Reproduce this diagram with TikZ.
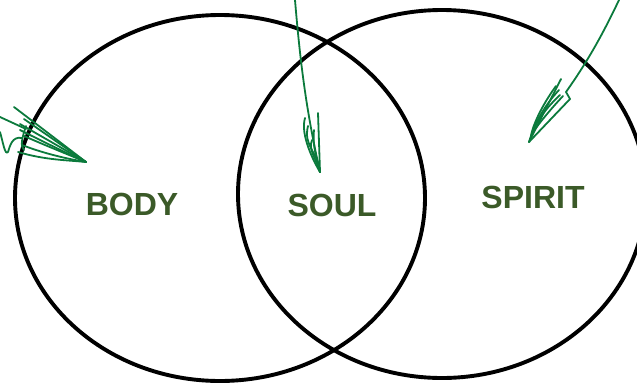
\documentclass[tikz,border=0pt]{standalone}
\usepackage{fontspec}
\setmainfont{Liberation Sans}
\usetikzlibrary{positioning}
\definecolor{labelgreen}{HTML}{3B5A28}
\definecolor{penGreen}{HTML}{0B7A3C}

\begin{document}
\begin{tikzpicture}[
    x=1pt, y=-1pt,
    ring/.style={draw=black, line width=3.9pt},
    word/.style={text=labelgreen, font=\fontsize{32}{34}\selectfont\bfseries, inner sep=0pt},
    scribble/.style={draw=penGreen, line width=1.8pt, line cap=round, line join=round}
]
\useasboundingbox (0,0) rectangle (637,383);

% the two circles
\draw[ring] (220,198) ellipse [x radius=205, y radius=183];
\draw[ring] (442,194) ellipse [x radius=204, y radius=184];

% labels
\node[word] (body) at (132,204) {BODY};
\node[word] (soul) at (332,205) {SOUL};
\node[word] (spirit) at (533,197) {SPIRIT};

% hand drawn pointers
\coordinate (tipA) at (86,162);
\coordinate (tipB) at (320,172);
\coordinate (tipC) at (529,142);

\draw[scribble] (0,117) -- (26,129);
\draw[scribble] (14,107) -- (tipA);
\draw[scribble] (24,119) -- (tipA);
\draw[scribble] (20,124) -- (tipA);
\draw[scribble] (20,130) .. controls (40,140) and (60,150) .. (tipA);
\draw[scribble] (24,136) .. controls (42,144) and (62,152) .. (tipA);
\draw[scribble] (22,145) .. controls (40,152) and (62,158) .. (tipA);
\draw[scribble] (18,152) .. controls (45,160) and (66,160) .. (tipA);
\draw[scribble] (26,126) .. controls (22,138) and (20,146) .. (24,150);
\draw[scribble] (0,132) .. controls (3,142) and (5,156) .. (8,152) .. controls (10,146) and (12,136) .. (22,138);

\draw[scribble] (295,0) .. controls (300,60) and (306,110) .. (tipB);
\draw[scribble] (318,113) -- (tipB);
\draw[scribble] (305,118) .. controls (300,135) and (314,162) .. (tipB);
\draw[scribble] (308,126) .. controls (303,146) and (318,152) .. (tipB);
\draw[scribble] (312,140) .. controls (308,150) and (316,158) .. (tipB);
\draw[scribble] (314,130) .. controls (312,148) and (318,160) .. (tipB);

\draw[scribble] (619,0) .. controls (600,40) and (585,65) .. (566,92);
\draw[scribble] (561,79) -- (tipC);
\draw[scribble] (570,99) -- (tipC);
\draw[scribble] (566,92) -- (570,99);
\draw[scribble] (559,90) .. controls (545,105) and (535,122) .. (tipC);
\draw[scribble] (556,86) .. controls (540,108) and (532,128) .. (531,136);
\draw[scribble] (563,96) .. controls (548,112) and (538,125) .. (533,132);
\draw[scribble] (560,95) .. controls (546,108) and (536,122) .. (532,134);
\end{tikzpicture}
\end{document}
